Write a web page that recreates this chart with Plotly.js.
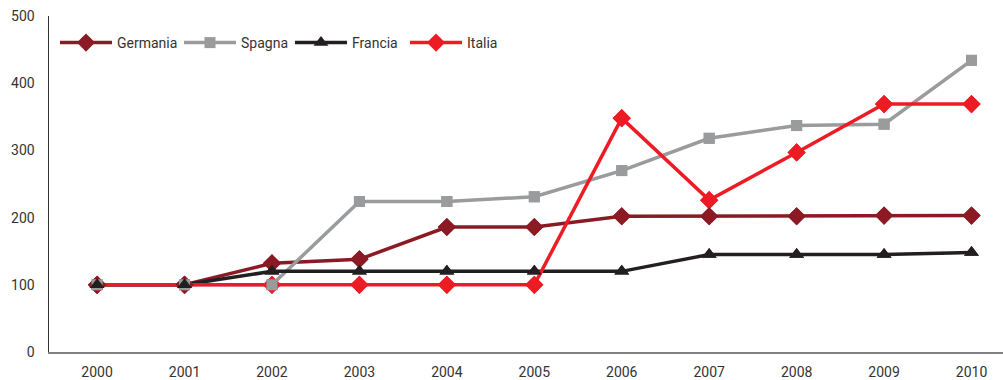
<!DOCTYPE html>
<html>
<head>
<meta charset="utf-8">
<script src="https://cdn.plot.ly/plotly-3.0.1.min.js"></script>
<style>
  html, body { margin: 0; padding: 0; background: #fff; }
  #chart { width: 1003px; height: 380px; }
</style>
</head>
<body>
<div id="chart"></div>
<script>
// Index values 2000 = 100
const years = ['2000', '2001', '2002', '2003', '2004', '2005', '2006', '2007', '2008', '2009', '2010'];
const germania = [100, 100, 132, 138, 186, 186, 202, 202, 202, 203, 203];
const spagna   = [100, 100, 100, 224, 224, 231, 270, 318, 337, 339, 434];
const francia  = [100, 100, 120, 120, 120, 120, 120, 145, 145, 145, 148];
const italia   = [100, 100, 100, 100, 100, 100, 348, 226, 297, 369, 369];

const series = [
  { name: 'Germania', y: germania, color: '#8c1a24', symbol: 'diamond', size: 14, legend: 'legend' },
  { name: 'Spagna',   y: spagna,   color: '#9a9b9d', symbol: 'square', size: 11, legend: 'legend2' },
  { name: 'Francia',  y: francia,  color: '#231f20', symbol: 'triangle-up', size: 13, legend: 'legend3' },
  { name: 'Italia',   y: italia,   color: '#ed1c24', symbol: 'diamond', size: 14, legend: 'legend4' }
];

// Lines (with markers for the legend swatch)
const lineTraces = series.map(s => ({
  type: 'scatter',
  mode: 'lines+markers',
  name: s.name,
  x: years,
  y: s.y,
  legend: s.legend,
  line: { color: s.color, width: 3.5 },
  marker: { color: s.color, symbol: s.symbol, size: s.size },
  hoverinfo: 'x+y+name'
}));

// Markers stacked above all lines
const markerOrder = ['Italia', 'Germania', 'Spagna', 'Francia'];
const markerTraces = markerOrder.map(n => {
  const s = series.find(d => d.name === n);
  return {
    type: 'scatter',
    mode: 'markers',
    name: s.name,
    x: years,
    y: s.y,
    showlegend: false,
    marker: { color: s.color, symbol: s.symbol, size: s.size },
    hoverinfo: 'skip'
  };
});

const font = { family: 'Roboto, "Open Sans", sans-serif', size: 14, color: '#333333' };
const plotW = 1003 - 49;
function legendAt(px) {
  return {
    x: (px - 49) / plotW, xanchor: 'left',
    y: 1 - (43 - 16) / 336, yanchor: 'middle',
    orientation: 'h', bgcolor: 'rgba(0,0,0,0)', borderwidth: 0,
    font: font, itemwidth: 52
  };
}

const layout = {
  width: 1003,
  height: 380,
  margin: { l: 49, r: 0, t: 16, b: 28 },
  paper_bgcolor: '#ffffff',
  plot_bgcolor: '#ffffff',
  font: font,
  showlegend: true,
  legend: legendAt(55),
  legend2: legendAt(179),
  legend3: legendAt(290),
  legend4: legendAt(405),
  xaxis: {
    type: 'category',
    range: [-0.55, 10.36],
    showgrid: false,
    zeroline: false,
    showline: true,
    linecolor: '#808080',
    linewidth: 1.5,
    ticks: '',
    ticklabelstandoff: 7,
    tickfont: font
  },
  yaxis: {
    range: [0, 500],
    tickvals: [0, 100, 200, 300, 400, 500],
    showgrid: false,
    zeroline: false,
    showline: true,
    linecolor: '#333333',
    linewidth: 1.5,
    ticks: '',
    ticklabelstandoff: 10,
    tickfont: font
  }
};

Plotly.newPlot('chart', lineTraces.concat(markerTraces), layout, { staticPlot: true, displayModeBar: false });
</script>
</body>
</html>
